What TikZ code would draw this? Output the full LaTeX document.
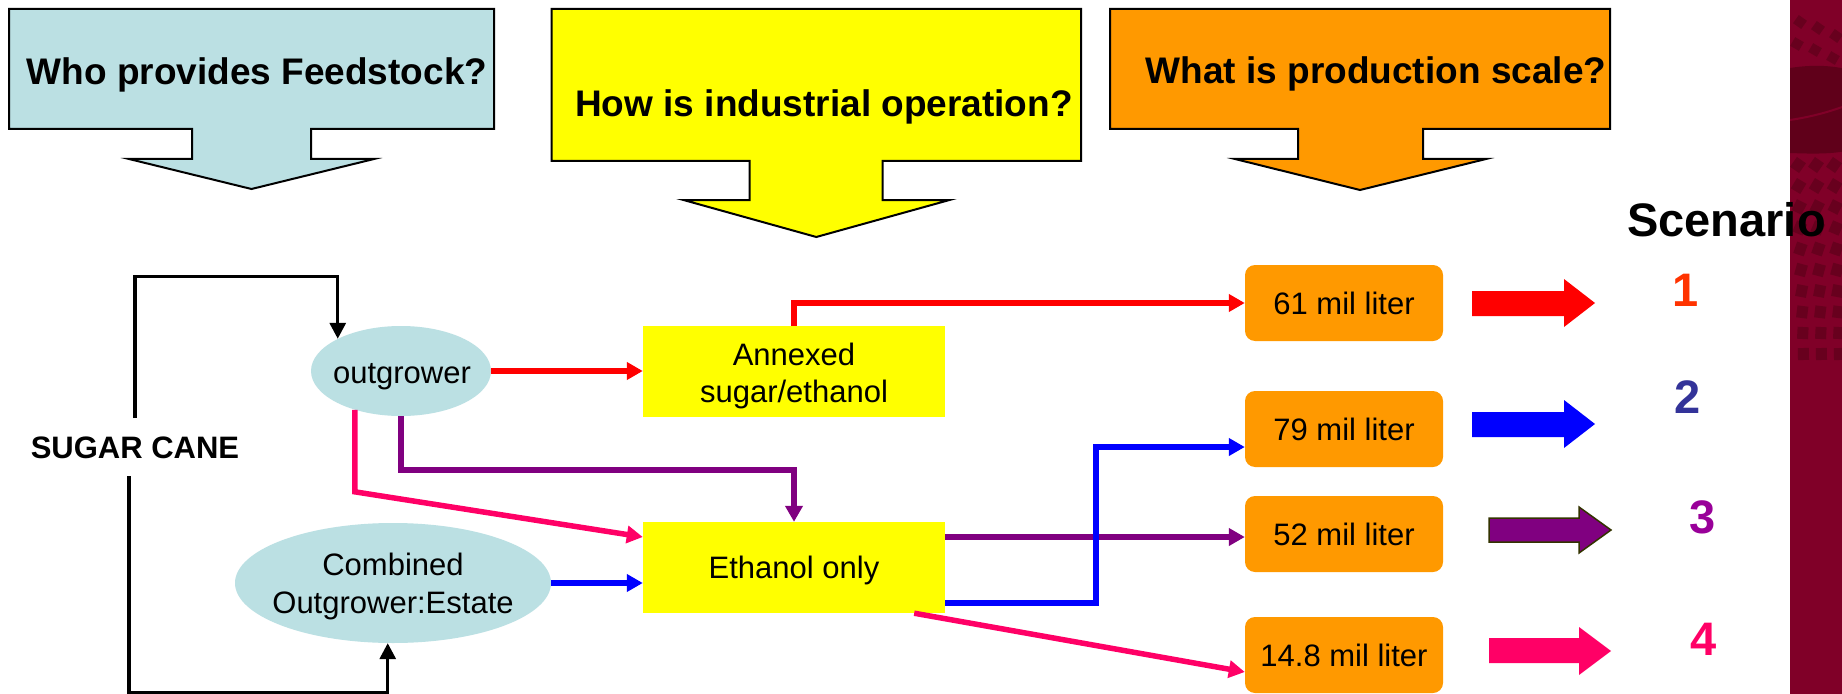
\documentclass[tikz,border=0pt]{standalone}
\usepackage{fontspec}
\setmainfont{Liberation Sans}
\usetikzlibrary{arrows.meta,shapes.geometric,calc}
\definecolor{tealc}{RGB}{187,224,227}
\definecolor{yelc}{RGB}{255,255,0}
\definecolor{orac}{RGB}{255,153,0}
\definecolor{redc}{RGB}{255,0,0}
\definecolor{bluc}{RGB}{0,0,255}
\definecolor{purc}{RGB}{128,0,128}
\definecolor{pinkc}{RGB}{255,0,102}
\definecolor{dOne}{RGB}{255,51,0}
\definecolor{dTwo}{RGB}{51,51,153}
\definecolor{dThree}{RGB}{153,0,153}
\definecolor{bandc}{RGB}{128,0,40}
\definecolor{tilec}{RGB}{104,0,30}
\definecolor{darkc}{RGB}{96,0,26}
\definecolor{olivec}{RGB}{51,51,0}
\newcommand\HdFont{\fontsize{37bp}{44bp}\selectfont\bfseries}
\newcommand\RgFont{\fontsize{31bp}{37bp}\selectfont}
\newcommand\BgFont{\fontsize{47bp}{56bp}\selectfont\bfseries}
\newcommand\CnFont{\fontsize{31bp}{37bp}\selectfont\bfseries}
\begin{document}
\begin{tikzpicture}[x=1bp,y=-1bp,
  hdr/.style={draw=black, line width=2bp, line join=miter},
  hdtxt/.style={font=\HdFont, inner sep=0pt, anchor=base},
  lbl/.style={font=\RgFont, inner sep=0pt, anchor=base},
  oval/.style={ellipse, fill=tealc, draw=none, inner sep=0pt},
  ybox/.style={rectangle, fill=yelc, inner sep=0pt, font=\RgFont, text depth=0pt, minimum width=302bp, minimum height=91bp},
  obox/.style={rectangle, rounded corners=10bp, fill=orac, inner sep=0pt, font=\RgFont, text depth=0pt, minimum width=198bp, minimum height=76bp},
  conn/.style={line width=5.5bp, -{Triangle[length=16bp,width=17bp]}},
  blk/.style={line width=3.2bp, draw=black, -{Triangle[length=16bp,width=16bp]}},
  digit/.style={font=\BgFont, inner sep=0pt},
]
\useasboundingbox (0,0) rectangle (1842,694);
\fill[white] (0,0) rectangle (1842,694);

% decorative band
\begin{scope}
\clip (1790,0) rectangle (1842,694);
\fill[bandc] (1790,0) rectangle (1842,694);
% dark swoosh
\fill[darkc] (1790,68) .. controls (1815,64) and (1835,66) .. (1850,70) -- (1850,150) .. controls (1835,154) and (1815,154) .. (1790,153) -- cycle;
\draw[bandc, line width=2bp] (1790,120) .. controls (1810,117) and (1830,112) .. (1850,104);
% top tiles
\foreach \xx/\yy/\aa in {1800/22/-35,1818/28/-35,1836/36/-35,1797/44/-30,1815/50/-30,1833/58/-30}{
  \fill[tilec, rotate around={\aa:(\xx,\yy)}] (\xx-5,\yy-5) rectangle (\xx+5,\yy+5);
}
% lower tiles
\foreach \r in {0,...,9}{
  \pgfmathsetmacro\yy{165+\r*21}
  \pgfmathsetmacro\aa{-35+\r*4}
  \foreach \c in {0,1,2}{
    \pgfmathsetmacro\xx{1798+\c*18+\r*0.6}
    \fill[tilec, rotate around={\aa:(\xx,\yy)}] (\xx-5.5,\yy-6) rectangle (\xx+5.5,\yy+6);
  }
}
\end{scope}

% header arrows
\path[hdr, fill=tealc] (9,9) -- (494,9) -- (494,129) -- (311,129) -- (311,159) -- (374,159) -- (251.5,189) -- (129,159) -- (192,159) -- (192,129) -- (9,129) -- cycle;
\path[hdr, fill=yelc] (551.5,9) -- (1081,9) -- (1081,161) -- (882.5,161) -- (882.5,200) -- (949.5,200) -- (816.3,237) -- (683.5,200) -- (749.7,200) -- (749.7,161) -- (551.5,161) -- cycle;
\path[hdr, fill=orac] (1110,9) -- (1610,9) -- (1610,129) -- (1423,129) -- (1423,159) -- (1486,159) -- (1360,190) -- (1235,159) -- (1298,159) -- (1298,129) -- (1110,129) -- cycle;
\node[hdtxt] (h1) at (257,85) {Who provides Feedstock?};
\node[hdtxt] (h2) at (824,117) {How is industrial operation?};
\node[hdtxt] (h3) at (1376,84) {What is production scale?};

\node[font=\BgFont, inner sep=0pt, anchor=base west] (scen) at (1627,236) {Scenario};

% sugar cane
\node[font=\CnFont, inner sep=0pt, anchor=base] (cane) at (135,458) {SUGAR CANE};
\coordinate (ctop) at (135,418);
\coordinate (cbot) at (129,476);

% ellipses
\node[oval, minimum width=180bp, minimum height=90bp] (outg) at (401,371) {};
\node[lbl] (outgt) at (402,383) {outgrower};
\node[oval, minimum width=316bp, minimum height=120bp] (comb) at (393,583) {};
\node[lbl] (combt1) at (393,575) {Combined};
\node[lbl] (combt2) at (393,613) {Outgrower:Estate};

% yellow boxes
\node[ybox] (annex) at (794,371.5) {};
\node[lbl] (annext1) at (794,365) {Annexed};
\node[lbl] (annext2) at (794,402) {sugar/ethanol};
\node[ybox] (eth) at (794,567.5) {Ethanol only};

% orange boxes
\node[obox] (m61) at (1344,303) {61 mil liter};
\node[obox] (m79) at (1344,429) {79 mil liter};
\node[obox] (m52) at (1344,534) {52 mil liter};
\node[obox] (m14) at (1344,655) {14.8 mil liter};

% black loop
\draw[blk] (ctop) |- ([yshift=62.4bp]outg.153.5) -- (outg.153.5);
\draw[blk] (cbot) |- ([yshift=-49bp]comb.265) -- (comb.265);

% coloured connectors
\draw[conn, draw=redc] (outg.east) -- (outg.east -| annex.west);
\draw[conn, draw=redc] (annex.north) |- (m61.west);
\draw[conn, draw=purc] (outg.south) -- ++(0,54) -| (eth.north);
\draw[conn, draw=pinkc] (outg.220.9) -- ++(0,82) -- ([yshift=30.5bp]eth.west);
\draw[conn, draw=bluc] (comb.east) -- (comb.east -| eth.west);
\draw[conn, draw=purc] ([yshift=30.5bp]eth.east) -- ([yshift=30.5bp]eth.east -| m52.west);
\draw[conn, draw=bluc] ([yshift=-35.5bp]eth.east) -| ([xshift=-149bp,yshift=-18bp]m79.west) -- ([yshift=-18bp]m79.west);
\draw[conn, draw=pinkc] ([xshift=-31bp]eth.south east) -- ([yshift=-17bp]m14.west);

% block arrows
\fill[redc] (1472,291) -- (1564,291) -- (1564,279) -- (1595,303) -- (1564,327) -- (1564,316) -- (1472,316) -- cycle;
\fill[bluc] (1472,412) -- (1564,412) -- (1564,400) -- (1595,424) -- (1564,448) -- (1564,437) -- (1472,437) -- cycle;
\filldraw[fill=purc, draw=olivec, line width=1.5bp] (1489,518) -- (1579,518) -- (1579,507) -- (1611,530) -- (1579,553) -- (1579,542) -- (1489,542) -- cycle;
\fill[pinkc] (1489,638) -- (1579,638) -- (1579,627) -- (1611,651) -- (1579,675) -- (1579,663) -- (1489,663) -- cycle;

% scenario numbers
\node[digit, text=dOne] (n1) at (1686,290) {1};
\node[digit, text=dTwo] (n2) at (1688,397) {2};
\node[digit, text=dThree] (n3) at (1703,517) {3};
\node[digit, text=pinkc] (n4) at (1704,639) {4};
\end{tikzpicture}
\end{document}
